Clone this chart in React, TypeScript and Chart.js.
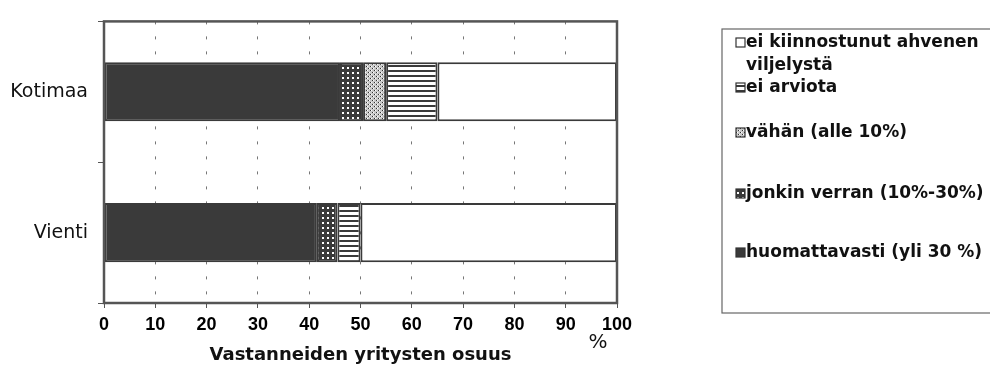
import React, { useEffect, useRef } from "react";
import { Chart, registerables } from "chart.js";

Chart.register(...registerables);

const categories = ["Kotimaa", "Vienti"];
const huomattavasti = [46, 41.5];
const jonkinVerran = [4.5, 4];
const vahan = [4.5, 0];
const eiArviota = [10, 4.5];
const eiKiinnostunut = [35, 50];

const xMin = 0;
const xMax = 100;
const xStep = 10;
const xTitle = "Vastanneiden yritysten osuus";
const unitLabel = "%";

const legendLabels = [
  ["ei kiinnostunut ahvenen", "viljelystä"],
  ["ei arviota"],
  ["vähän (alle 10%)"],
  ["jonkin verran (10%-30%)"],
  ["huomattavasti (yli 30 %)"],
];

const DARK = "#3a3a3a";

function makePattern(kind: string): CanvasPattern | string {
  const c = document.createElement("canvas");
  const x = c.getContext("2d")!;
  if (kind === "dark") return DARK;
  if (kind === "white") return "#ffffff";
  if (kind === "grid") {
    c.width = 5;
    c.height = 5;
    x.fillStyle = DARK;
    x.fillRect(0, 0, 5, 5);
    x.fillStyle = "#ffffff";
    x.fillRect(2, 2, 2, 2);
  } else if (kind === "dots") {
    c.width = 4;
    c.height = 4;
    x.fillStyle = "#c8c8c8";
    x.fillRect(0, 0, 4, 4);
    x.fillStyle = "#ffffff";
    x.fillRect(1, 0, 1, 1);
    x.fillRect(3, 2, 1, 1);
    x.fillStyle = "#333333";
    x.fillRect(0, 0, 1, 1);
    x.fillRect(2, 2, 1, 1);
  } else if (kind === "hstripe") {
    c.width = 5;
    c.height = 5;
    x.fillStyle = "#ffffff";
    x.fillRect(0, 0, 5, 5);
    x.fillStyle = DARK;
    x.fillRect(0, 0, 5, 2);
  }
  return x.createPattern(c, "repeat")!;
}

export default function App() {
  const ref = useRef<HTMLCanvasElement>(null);

  useEffect(() => {
    const canvas = ref.current!;
    const fills = {
      dark: makePattern("dark"),
      grid: makePattern("grid"),
      dots: makePattern("dots"),
      hstripe: makePattern("hstripe"),
      white: makePattern("white"),
    };
    const legendFills = [fills.white, fills.hstripe, fills.dots, fills.grid, fills.dark];
    const legendY = [43, 88, 133, 194, 253];

    const overlay = {
      id: "overlay",
      afterDraw(chart: any) {
        const ctx = chart.ctx as CanvasRenderingContext2D;
        const a = chart.chartArea;
        ctx.save();
        ctx.strokeStyle = "#555";
        ctx.lineWidth = 2.5;
        ctx.strokeRect(a.left, a.top, a.right - a.left, a.bottom - a.top);

        ctx.fillStyle = "#111";
        ctx.textAlign = "center";
        ctx.textBaseline = "middle";
        ctx.font = 'bold 18px "DejaVu Sans"';
        ctx.fillText(xTitle, (a.left + a.right) / 2, 355);
        ctx.font = '20px "DejaVu Sans"';
        ctx.fillText(unitLabel, a.right - 19, 343);

        // legend box
        ctx.strokeStyle = "#666";
        ctx.lineWidth = 1.2;
        ctx.strokeRect(722, 29, 290, 284);
        ctx.textAlign = "left";
        ctx.font = 'bold 17px "DejaVu Sans"';
        legendLabels.forEach((lines, i) => {
          const cy = legendY[i];
          ctx.fillStyle = legendFills[i] as any;
          ctx.fillRect(736, cy - 5, 9, 9);
          ctx.strokeStyle = "#333";
          ctx.lineWidth = 1.2;
          ctx.strokeRect(736, cy - 5, 9, 9);
          ctx.fillStyle = "#111";
          lines.forEach((t, j) => {
            ctx.fillText(t, 746, cy + j * 23);
          });
        });
        ctx.restore();
      },
    };

    const common = {
      borderColor: DARK,
      borderWidth: 2,
      borderSkipped: false as const,
      barPercentage: 0.42,
      categoryPercentage: 1,
    };

    const chart = new Chart(canvas, {
      type: "bar",
      data: {
        labels: categories,
        datasets: [
          { label: "huomattavasti (yli 30 %)", data: huomattavasti, backgroundColor: fills.dark as any, ...common },
          { label: "jonkin verran (10%-30%)", data: jonkinVerran, backgroundColor: fills.grid as any, ...common },
          { label: "vähän (alle 10%)", data: vahan, backgroundColor: fills.dots as any, ...common },
          { label: "ei arviota", data: eiArviota, backgroundColor: fills.hstripe as any, ...common },
          { label: "ei kiinnostunut ahvenen viljelystä", data: eiKiinnostunut, backgroundColor: fills.white as any, ...common },
        ],
      },
      options: {
        indexAxis: "y",
        animation: false,
        responsive: false,
        layout: { padding: { top: 12, right: 373, left: 0, bottom: 0 } },
        plugins: { legend: { display: false }, tooltip: { enabled: false } },
        scales: {
          x: {
            stacked: true,
            min: xMin,
            max: xMax,
            ticks: {
              stepSize: xStep,
              color: "#000",
              font: { family: "Liberation Sans", size: 18, weight: "bold" },
              padding: 6,
              maxRotation: 0,
            },
            grid: { color: "#777", tickColor: "#555", tickLength: 5, lineWidth: 1 },
            border: { display: false, dash: [3, 12] },
            afterFit: (s: any) => {
              s.height = 88;
            },
          },
          y: {
            stacked: true,
            ticks: {
              color: "#111",
              font: { family: "DejaVu Sans", size: 19 },
              padding: 10,
            },
            grid: { color: "rgba(0,0,0,0)", tickColor: "#555", tickLength: 6 },
            border: { display: false },
            afterFit: (s: any) => {
              s.width = 104;
            },
          },
        },
      },
      plugins: [overlay],
    });
    return () => chart.destroy();
  }, []);

  return (
    <div style={{ position: "fixed", left: 0, top: 0, width: 990, height: 391, background: "#fff" }}>
      <canvas ref={ref} width={990} height={391} style={{ display: "block" }} />
    </div>
  );
}
